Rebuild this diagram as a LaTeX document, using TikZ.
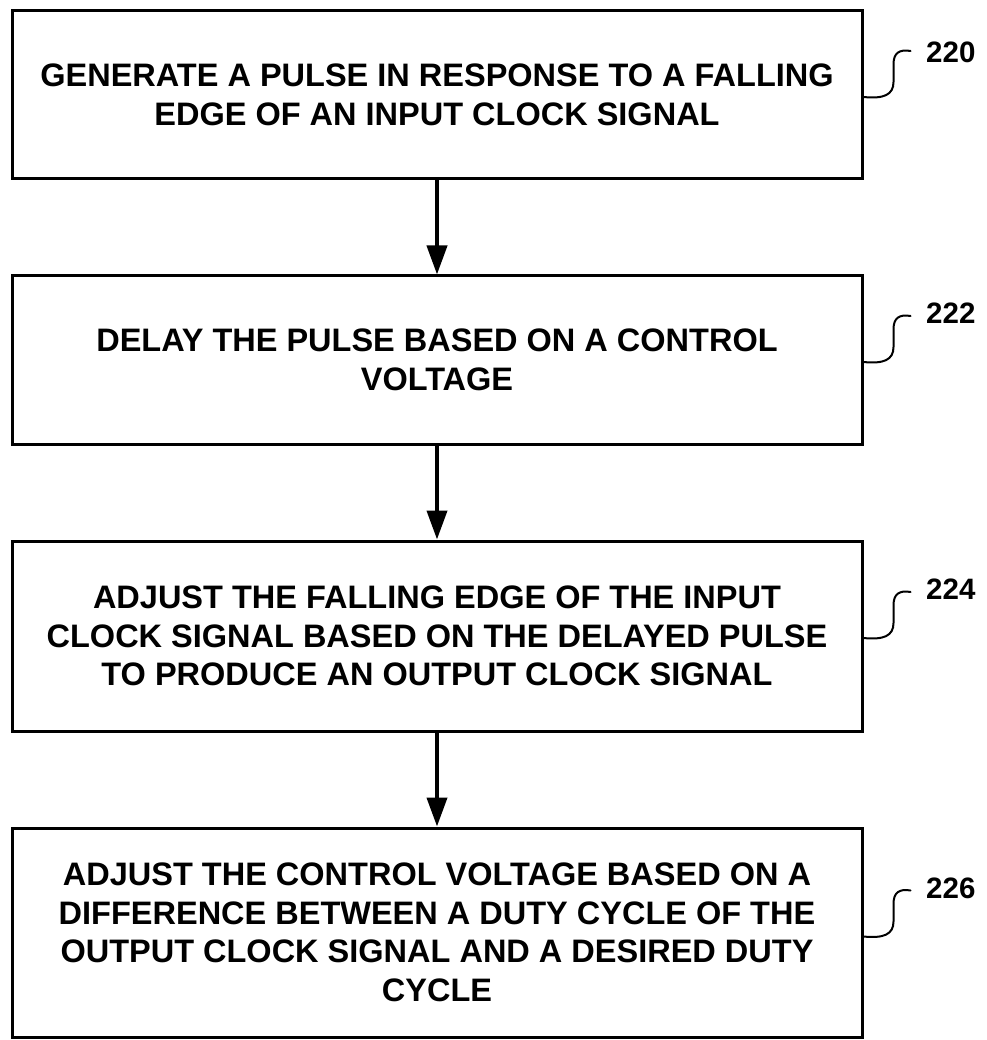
\documentclass[tikz,border=0pt]{standalone}
\usepackage{fontspec}
\setmainfont{Liberation Sans}
\usetikzlibrary{arrows.meta}
\begin{document}
\begin{tikzpicture}[x=1pt,y=-1pt,
  stepbox/.style={draw, line width=3pt, minimum width=850pt, inner sep=0pt,
    align=center, font=\bfseries\fontsize{32.5}{38.5}\selectfont},
  flow/.style={line width=4pt, -{Triangle[width=20pt,length=29pt]}},
  leaderline/.style={line width=2pt, line cap=round},
  leader/.pic={\draw[leaderline] (0,0) .. controls (20,2) and (30,-2) .. (30,-15)
      -- (30,-33) .. controls (30,-44) and (36,-48) .. (47,-46);},
  refnum/.style={font=\bfseries\fontsize{29.5}{34}\selectfont, anchor=west, inner sep=0pt}
]
\useasboundingbox (0,0) rectangle (986,1040);

% process steps
\node[stepbox, minimum height=168pt] (s220) at (437,95)
  {GENERATE A PULSE IN RESPONSE TO A FALLING\\EDGE OF AN INPUT CLOCK SIGNAL};
\node[stepbox, minimum height=168pt] (s222) at (437,360)
  {DELAY THE PULSE BASED ON A CONTROL\\VOLTAGE};
\node[stepbox, minimum height=190pt] (s224) at (437,636)
  {ADJUST THE FALLING EDGE OF THE INPUT\\CLOCK SIGNAL BASED ON THE DELAYED PULSE\\TO PRODUCE AN OUTPUT CLOCK SIGNAL};
\node[stepbox, minimum height=209pt] (s226) at (437,932.5)
  {ADJUST THE CONTROL VOLTAGE BASED ON A\\DIFFERENCE BETWEEN A DUTY CYCLE OF THE\\OUTPUT CLOCK SIGNAL AND A DESIRED DUTY\\CYCLE};

% flow arrows
\draw[flow] (s220) -- (s222);
\draw[flow] (s222) -- (s224);
\draw[flow] (s224) -- (s226);

% reference numerals with leader lines
\pic at ([yshift=-2pt]s220.east) {leader};
\pic at ([yshift=-2pt]s222.east) {leader};
\pic at ([yshift=-2pt]s224.east) {leader};
\pic at ([yshift=-4pt]s226.east) {leader};
\node[refnum] (n220) at (926,52) {220};
\node[refnum] (n222) at (926,313) {222};
\node[refnum] (n224) at (926,589) {224};
\node[refnum] (n226) at (926,888) {226};
\end{tikzpicture}
\end{document}
